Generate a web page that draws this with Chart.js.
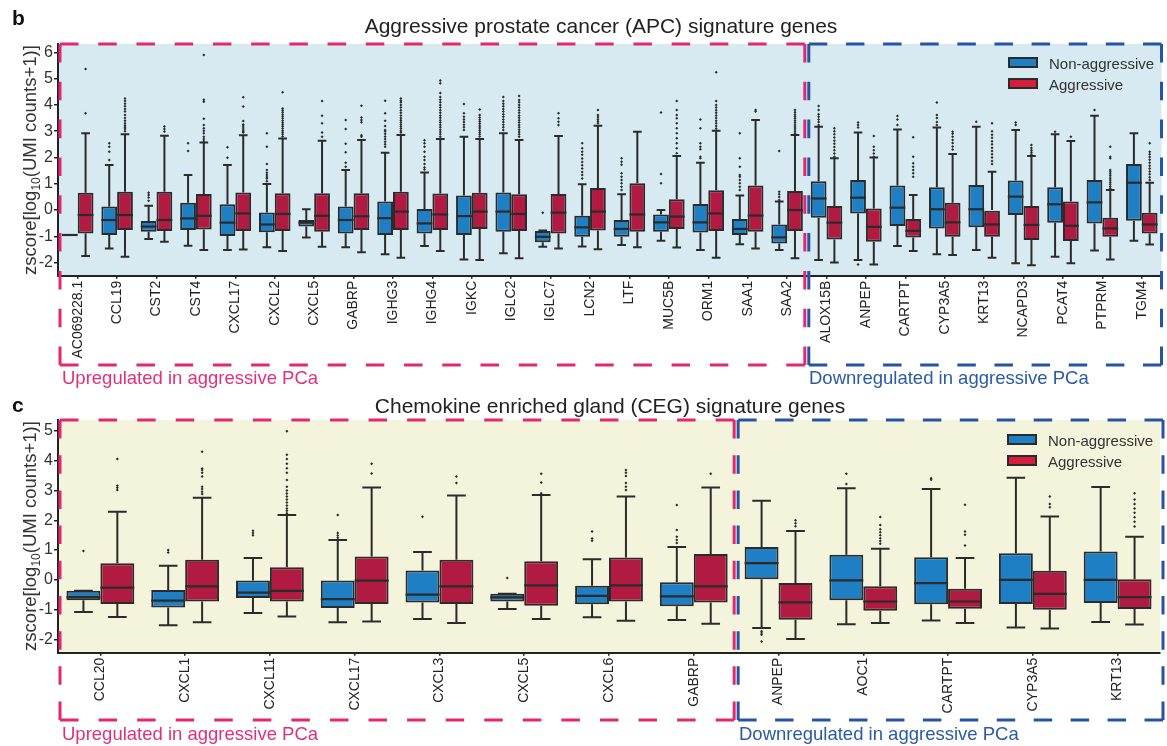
<!DOCTYPE html>
<html><head><meta charset="utf-8">
<script src="https://cdn.jsdelivr.net/npm/chart.js@4.4.1/dist/chart.umd.min.js"></script>
<style>
html,body{margin:0;padding:0;background:#fff;}
body{width:1167px;height:746px;position:relative;overflow:hidden;font-family:'Liberation Sans',Arial,Helvetica,sans-serif;color:#222;}
canvas{position:absolute;left:0;}
.t{position:absolute;white-space:nowrap;line-height:1;}
.yt{font-size:18.5px;color:#333;transform:translate(-50%,-50%) rotate(-90deg);}
.yt sub{font-size:12px;vertical-align:baseline;position:relative;top:4px;}
.ttl{font-size:21px;color:#222;transform:translateX(-50%);}
.lab{font-size:21px;font-weight:bold;color:#111;}
.ann{font-size:18.5px;}
.lg{position:absolute;font-size:15px;line-height:1;color:#333;white-space:nowrap;}
.sw{position:absolute;width:26px;height:7px;border:2px solid #2b2b2b;}
</style></head><body>
<canvas id="cb" width="1167" height="370" style="top:0;width:1167px;height:370px"></canvas>
<canvas id="cc" width="1167" height="356" style="top:390px;width:1167px;height:356px"></canvas>

<div class="t lab" style="left:12px;top:7px">b</div>
<div class="t ttl" style="left:601px;top:15px">Aggressive prostate cancer (APC) signature genes</div>
<div class="t yt" style="left:29.5px;top:160px">zscore[log<sub>10</sub>(UMI counts+1)]</div>
<div class="t ann" style="left:62px;top:369px;color:#e0307a">Upregulated in aggressive PCa</div>
<div class="t ann" style="left:809px;top:369px;color:#2b5aa6">Downregulated in aggressive PCa</div>

<div class="t lab" style="left:12px;top:394px">c</div>
<div class="t ttl" style="left:610px;top:395px">Chemokine enriched gland (CEG) signature genes</div>
<div class="t yt" style="left:29.5px;top:536px">zscore[log<sub>10</sub>(UMI counts+1)]</div>
<div class="t ann" style="left:62px;top:725px;color:#e0307a">Upregulated in aggressive PCa</div>
<div class="t ann" style="left:739px;top:725px;color:#2b5aa6">Downregulated in aggressive PCa</div>

<script>
// ---------- data ----------
const seriesNames = ['Non-aggressive', 'Aggressive'];

const genesB = ['AC069228.1','CCL19','CST2','CST4','CXCL17','CXCL2','CXCL5','GABRP','IGHG3','IGHG4','IGKC','IGLC2','IGLC7','LCN2','LTF','MUC5B','ORM1','SAA1','SAA2','ALOX15B','ANPEP','CARTPT','CYP3A5','KRT13','NCAPD3','PCAT4','PTPRM','TGM4'];
const upCountB = 19;

const naB_lo  = [-0.95,-1.46,-1.10,-1.36,-1.52,-1.42,-1.05,-1.42,-1.68,-1.37,-1.88,-1.65,-1.40,-1.39,-1.33,-1.17,-1.52,-1.30,-1.52,-1.90,-1.90,-1.37,-1.68,-1.52,-2.03,-1.78,-1.54,-1.17];
const naB_q1  = [-0.95,-0.95,-0.83,-0.76,-0.99,-0.85,-0.63,-0.89,-0.95,-0.89,-0.95,-0.83,-1.23,-1.02,-1.02,-0.83,-0.86,-0.95,-1.27,-0.29,-0.13,-0.61,-0.70,-0.66,-0.19,-0.48,-0.51,-0.41];
const naB_med = [-0.95,-0.38,-0.63,-0.32,-0.48,-0.55,-0.48,-0.38,-0.31,-0.51,-0.23,-0.06,-1.02,-0.66,-0.72,-0.47,-0.47,-0.72,-1.04,0.44,0.47,0.09,0.03,0.03,0.51,0.22,0.29,1.04];
const naB_q3  = [-0.95,0.13,-0.42,0.28,0.22,-0.09,-0.38,0.13,0.32,0.04,0.55,0.67,-0.80,-0.22,-0.38,-0.17,0.23,-0.34,-0.55,1.10,1.14,0.93,0.87,0.95,1.12,0.87,1.14,1.75];
const naB_hi  = [-0.95,1.71,0.16,1.33,1.71,0.99,0.03,1.52,2.18,1.43,2.79,2.92,-0.78,0.98,0.60,0.00,1.80,0.55,0.32,3.17,2.95,3.07,3.14,3.17,3.05,2.88,3.59,2.92];
const naB_out = [[],[1.9,2.22,2.41,2.54],[0.35,0.48,0.57,0.66],[2.25,2.54],[1.99,2.39],[1.1,1.2,1.26,1.33,1.42,1.52,1.75,2.41,2.92],[],[1.65,1.8,2.2,2.52,3.08,3.43],[2.41,2.5,2.6,2.7,2.8,2.9,3.0,3.05,3.2,3.4,3.68,4.16],[1.54,1.62,1.75,1.9,2.03,2.22,2.41,2.54,2.66],[3.05,3.15,3.25,3.35,3.45,3.55,3.68,4.04],[3.05,3.15,3.25,3.35,3.45,3.55,3.65,3.75,3.85,3.95,4.05,4.15,4.3],[-0.1],[1.2,1.33,1.45,1.58,1.7,1.83,1.96,2.1,2.22,2.35,2.54],[0.76,0.89,1.02,1.14,1.27,1.4,1.72,1.84,1.97],[1.02,1.37,3.71],[1.97,2.03,2.31,2.41,2.54,3.11,3.45],[0.76,0.89,1.02,1.14,1.27,1.33,1.65,1.97,2.92],[0.38,0.5,0.6,0.7,2.25],[3.24,3.35,3.45,3.55,3.65,3.81,3.96],[3.14,3.24,3.33,-2.07],[3.24,3.45,3.58],[3.24,3.35,3.5,3.62,4.09],[3.36],[3.24,3.33],[2.98],[3.81],[]];

const agB_lo  = [-1.75,-1.78,-1.21,-1.52,-1.50,-1.56,-1.40,-1.61,-1.82,-1.56,-1.90,-1.84,-1.46,-1.49,-1.42,-1.43,-1.82,-1.46,-1.84,-2.00,-2.07,-1.56,-1.71,-1.82,-2.10,-2.03,-1.88,-1.31];
const agB_q1  = [-0.89,-0.76,-0.80,-0.74,-0.80,-0.80,-0.83,-0.76,-0.76,-0.76,-0.72,-0.80,-0.89,-0.78,-0.83,-0.72,-0.80,-0.83,-0.80,-1.12,-1.21,-1.05,-1.02,-1.02,-1.14,-1.18,-1.02,-0.89];
const agB_med = [-0.19,-0.19,-0.38,-0.22,-0.13,-0.15,-0.22,-0.24,-0.06,-0.17,-0.06,-0.15,-0.10,-0.06,-0.17,-0.25,-0.13,-0.21,0.00,-0.48,-0.64,-0.79,-0.47,-0.55,-0.57,-0.60,-0.70,-0.55];
const agB_q3  = [0.66,0.70,0.70,0.61,0.67,0.64,0.64,0.64,0.70,0.63,0.66,0.60,0.61,0.84,1.02,0.41,0.75,0.93,0.72,0.15,0.06,-0.34,0.28,0.00,0.15,0.32,-0.29,-0.10];
const agB_hi  = [2.92,2.88,2.83,2.57,2.85,2.72,2.64,2.67,2.86,2.70,2.70,2.67,2.82,3.21,2.98,2.06,3.02,3.43,2.86,1.97,2.00,0.57,2.13,1.46,2.06,2.63,0.76,1.04];
const agB_out = [[3.68,5.37],[3.0,3.08,3.15,3.22,3.3,3.4,3.5,3.62,3.75,3.85,3.95,4.05,4.15,4.25],[2.99,3.08,3.18],[2.62,2.7,2.79,2.92,3.02,3.11,3.24,3.47,4.12,4.2,5.9],[2.95,3.0,3.05,3.12,3.2,3.26,3.39,3.94,4.29],[2.8,2.88,2.95,3.02,3.1,3.18,3.25,3.32,3.4,3.48,3.56,3.64,3.72,3.8,3.86,4.48],[2.79,2.95,3.3,3.59,4.15],[2.79,2.85,3.34,3.43,3.52,3.97],[2.95,3.02,3.1,3.18,3.26,3.34,3.42,3.5,3.6,3.7,3.8,3.9,4.0,4.1,4.16,4.25],[2.79,2.88,2.97,3.06,3.15,3.24,3.33,3.42,3.51,3.6,3.7,3.8,3.9,4.0,4.1,4.2,4.3,4.45,4.83,4.93],[2.8,2.88,2.96,3.04,3.12,3.2,3.28,3.36,3.44,3.52,3.62,3.83],[2.79,2.88,2.97,3.06,3.15,3.24,3.33,3.42,3.51,3.6,3.7,3.8,3.9,4.0,4.1,4.19,4.34],[3.24,3.36,3.49,3.68],[3.3,3.38,3.46,3.54,3.62,3.81],[],[2.16,2.35,2.54,2.73,2.92,3.11,3.3,3.49,3.62,3.81,4.15],[3.1,3.2,3.3,3.4,3.5,3.6,3.7,3.8,3.9,4.0,4.15,5.24],[3.75,3.81],[2.92,3.0,3.08,3.16,3.24,3.32,3.4,3.48,3.56,3.64,3.72,3.81],[2.03,2.15,2.28,2.4,2.52,2.64,2.76,2.88,3.0,3.11],[2.03,2.15,2.28,2.41,2.82],[1.27,1.4,1.52,1.65,1.78,2.03,2.77],[2.3,2.42,2.55,2.67,2.79,2.9,2.98],[1.75,1.87,2.0,2.12,2.25,2.37,2.5,2.62,2.75,2.87,3.0,3.3],[2.12,2.2,2.28,2.36,2.48],[2.79],[0.82,0.9,0.98,1.06,1.14,1.22,1.3,1.38,1.46,1.52,1.97,2.03,2.41],[1.14,1.25,1.36,1.47,1.58,1.69,1.8,1.91,2.02,2.12,2.22,2.54]];

const genesC = ['CCL20','CXCL1','CXCL11','CXCL17','CXCL3','CXCL5','CXCL6','GABRP','ANPEP','AOC1','CARTPT','CYP3A5','KRT13'];
const upCountC = 8;

const naC_lo  = [-1.08,-1.53,-1.12,-1.43,-1.32,-0.98,-1.26,-1.35,-1.62,-1.49,-1.37,-1.60,-1.42];
const naC_q1  = [-0.69,-0.93,-0.61,-0.95,-0.76,-0.73,-0.82,-0.89,0.02,-0.69,-0.82,-0.81,-0.78];
const naC_med = [-0.58,-0.70,-0.43,-0.65,-0.50,-0.59,-0.54,-0.56,0.56,-0.02,-0.11,0.00,0.00];
const naC_q3  = [-0.37,-0.34,-0.02,-0.02,0.31,-0.47,-0.20,-0.08,1.10,0.84,0.76,0.89,0.95];
const naC_hi  = [-0.37,0.47,0.73,1.34,0.93,-0.47,0.69,1.10,2.66,3.08,3.05,3.43,3.12];
const naC_out = [[0.97],[0.92,1.0],[1.5,1.57,1.65],[1.41,1.49,1.57,2.18],[2.12],[0.06],[1.31,1.39,1.62],[1.24,1.34,1.45,1.67,2.51],[-1.73,-1.79,-1.85,-2.07],[3.22,3.56],[3.36,3.41],[],[]];

const agC_lo  = [-1.25,-1.43,-1.23,-1.40,-1.45,-1.32,-1.38,-1.48,-1.99,-1.45,-1.45,-1.64,-1.50];
const agC_q1  = [-0.81,-0.73,-0.73,-0.81,-0.81,-0.87,-0.73,-0.76,-1.34,-1.04,-0.97,-1.01,-0.98];
const agC_med = [-0.26,-0.22,-0.37,-0.03,-0.22,-0.19,-0.19,-0.22,-0.76,-0.73,-0.73,-0.47,-0.58];
const agC_q3  = [0.56,0.67,0.42,0.78,0.67,0.62,0.75,0.87,-0.11,-0.22,-0.30,0.30,0.02];
const agC_hi  = [2.29,2.76,2.18,3.10,2.83,2.85,2.80,3.10,1.64,1.04,0.73,2.13,1.45];
const agC_out = [[3.02,3.09,3.16,4.06],[2.88,2.96,3.05,3.13,3.47,3.6,3.69,3.74,4.30],[2.24,2.32,2.4,2.5,2.6,2.7,2.8,2.9,3.0,3.13,3.35,3.6,3.75,3.9,4.06,4.2,4.99],[3.57,3.90],[3.25,3.47],[2.91,3.27,3.56],[3.02,3.13,3.25,3.49,3.6,3.69],[3.56],[1.8,1.9,2.0],[1.21,1.3,1.4,1.5,1.6,1.7,1.84,2.11],[1.15,1.51,1.62,2.52],[2.44,2.55,2.8],[1.79,1.95,2.1,2.25,2.4,2.55,2.7,2.91]];

// ---------- style ----------
const boxBlue = '#1f7fc4', boxRed = '#b11a41';
const legBlue = '#1f7fc4', legRed = '#d41f3c';
const edge = '#2b2b2b';
const pink = '#e2286f', navy = '#2553a5';

Chart.defaults.font.family = "'Liberation Sans', Arial, Helvetica, sans-serif";

function dashedLine(ctx, x1, y1, x2, y2, dash, gap) {
  const len = Math.hypot(x2 - x1, y2 - y1);
  const n = Math.max(2, Math.round((len + gap) / (dash + gap)));
  const g = (len - n * dash) / (n - 1);
  ctx.setLineDash([dash, g]);
  ctx.beginPath(); ctx.moveTo(x1, y1); ctx.lineTo(x2, y2); ctx.stroke();
}

const boxPlugin = {
  id: 'boxExtras',
  beforeDraw(chart, args, o) {
    const a = chart.chartArea, ctx = chart.ctx;
    ctx.save(); ctx.fillStyle = o.bg;
    ctx.fillRect(a.left, a.top, a.right - a.left, a.bottom - a.top);
    ctx.restore();
  },
  beforeDatasetsDraw(chart) {
    const ctx = chart.ctx, ys = chart.scales.y;
    ctx.save(); ctx.strokeStyle = edge; ctx.lineWidth = 2;
    chart.data.datasets.forEach((ds, d) => {
      const s = ds.stats;
      chart.getDatasetMeta(d).data.forEach((el, i) => {
        const {x, width} = el.getProps(['x', 'width'], true);
        const cw = width * 0.55;
        const pq1 = ys.getPixelForValue(s.q1[i]), pq3 = ys.getPixelForValue(s.q3[i]);
        const plo = ys.getPixelForValue(s.lo[i]), phi = ys.getPixelForValue(s.hi[i]);
        ctx.beginPath();
        ctx.moveTo(x, pq3); ctx.lineTo(x, phi);
        ctx.moveTo(x - cw / 2, phi); ctx.lineTo(x + cw / 2, phi);
        ctx.moveTo(x, pq1); ctx.lineTo(x, plo);
        ctx.moveTo(x - cw / 2, plo); ctx.lineTo(x + cw / 2, plo);
        ctx.stroke();
      });
    });
    ctx.restore();
  },
  afterDatasetsDraw(chart) {
    const ctx = chart.ctx, ys = chart.scales.y;
    ctx.save(); ctx.strokeStyle = edge; ctx.fillStyle = edge; ctx.lineWidth = 2.2;
    chart.data.datasets.forEach((ds, d) => {
      const s = ds.stats;
      chart.getDatasetMeta(d).data.forEach((el, i) => {
        const {x, width} = el.getProps(['x', 'width'], true);
        const pm = ys.getPixelForValue(s.med[i]);
        ctx.beginPath(); ctx.moveTo(x - width / 2, pm); ctx.lineTo(x + width / 2, pm); ctx.stroke();
        s.out[i].forEach(v => {
          const py = ys.getPixelForValue(v), r = 1.5;
          ctx.beginPath();
          ctx.moveTo(x, py - r); ctx.lineTo(x + r, py); ctx.lineTo(x, py + r); ctx.lineTo(x - r, py);
          ctx.closePath(); ctx.fill();
        });
      });
    });
    ctx.restore();
  },
  afterDraw(chart, args, o) {
    const ctx = chart.ctx, xs = chart.scales.x, a = chart.chartArea;
    ctx.save(); ctx.lineWidth = 3;
    o.groups.forEach(g => {
      const l = xs.getPixelForValue(g.from) + g.dl;
      const r = xs.getPixelForValue(g.to) + g.dr;
      const t = a.top, b = o.bottom;
      ctx.strokeStyle = g.color;
      dashedLine(ctx, l, t, r, t, 18.5, 19);
      dashedLine(ctx, r, t, r, b, 18.5, 19);
      dashedLine(ctx, l, b, r, b, 18.5, 19);
      dashedLine(ctx, l, t, l, b, 18.5, 19);
    });
    ctx.restore();
  }
};

function stats(lo, q1, med, q3, hi, out) { return {lo, q1, med, q3, hi, out}; }

function makePanel(id, labels, na, ag, o) {
  const common = {borderColor: edge, borderWidth: 2, borderSkipped: false, barPercentage: 1, categoryPercentage: 0.8};
  return new Chart(document.getElementById(id), {
    type: 'bar',
    data: {
      labels,
      datasets: [
        Object.assign({label: seriesNames[0], data: na.q1.map((v, i) => [v, na.q3[i]]), backgroundColor: boxBlue, legendColor: legBlue, stats: na}, common),
        Object.assign({label: seriesNames[1], data: ag.q1.map((v, i) => [v, ag.q3[i]]), backgroundColor: boxRed, legendColor: legRed, stats: ag}, common)
      ]
    },
    options: {
      responsive: false, animation: false, devicePixelRatio: 1,
      layout: {padding: {top: o.top, right: o.right, left: 0, bottom: 0}},
      plugins: {
        legend: {display: false}, tooltip: {enabled: false}, title: {display: false},
        boxExtras: {bg: o.bg, bottom: o.boxBottom, groups: [
          {from: -0.5, to: o.up - 0.5, color: pink, dl: 2, dr: -2},
          {from: o.up - 0.5, to: labels.length - 0.5, color: navy, dl: 2, dr: o.blueRight}
        ]}
      },
      scales: {
        x: {
          grid: {display: true, drawOnChartArea: false, drawTicks: true, tickLength: 3, offset: false, color: '#222', lineWidth: 1.5},
          border: {display: true, color: '#222', width: 2},
          ticks: {autoSkip: false, minRotation: 90, maxRotation: 90, padding: 2, color: '#222', font: {size: 14}},
          afterFit(s) { s.height = o.xh; }
        },
        y: {
          min: o.ymin, max: o.ymax,
          grid: {display: true, drawOnChartArea: false, drawTicks: true, tickLength: 4, color: '#222', lineWidth: 1.5},
          border: {display: true, color: '#222', width: 2},
          ticks: {stepSize: 1, includeBounds: false, padding: 1, color: '#333', font: {size: 16}},
          afterFit(s) { s.width = 58; }
        }
      }
    },
    plugins: [boxPlugin]
  });
}

function htmlLegend(chart, left, top) {
  chart.data.datasets.forEach((ds, i) => {
    const y = top + i * 20.5;
    const sw = document.createElement('div');
    sw.className = 'sw'; sw.style.left = left + 'px'; sw.style.top = y + 'px'; sw.style.background = ds.legendColor;
    document.body.appendChild(sw);
    const tx = document.createElement('div');
    tx.className = 'lg'; tx.textContent = ds.label;
    tx.style.left = (left + 41) + 'px'; tx.style.top = (y - 1) + 'px';
    document.body.appendChild(tx);
  });
}

const chartB = makePanel('cb', genesB,
  stats(naB_lo, naB_q1, naB_med, naB_q3, naB_hi, naB_out),
  stats(agB_lo, agB_q1, agB_med, agB_q3, agB_hi, agB_out),
  {top: 44, right: 5.5, xh: 94.3, ymin: -2.5, ymax: 6.32, bg: '#d7eaf1', boxBottom: 365, up: upCountB, blueRight: 0});

const chartC = makePanel('cc', genesC,
  stats(naC_lo, naC_q1, naC_med, naC_q3, naC_hi, naC_out),
  stats(agC_lo, agC_q1, agC_med, agC_q3, agC_hi, agC_out),
  {top: 30, right: 7, xh: 93.3, ymin: -2.45, ymax: 5.37, bg: '#f4f4dc', boxBottom: 330, up: upCountC, blueRight: 3});

htmlLegend(chartB, 1008, 57);
htmlLegend(chartC, 1007, 434);
</script>
</body></html>
